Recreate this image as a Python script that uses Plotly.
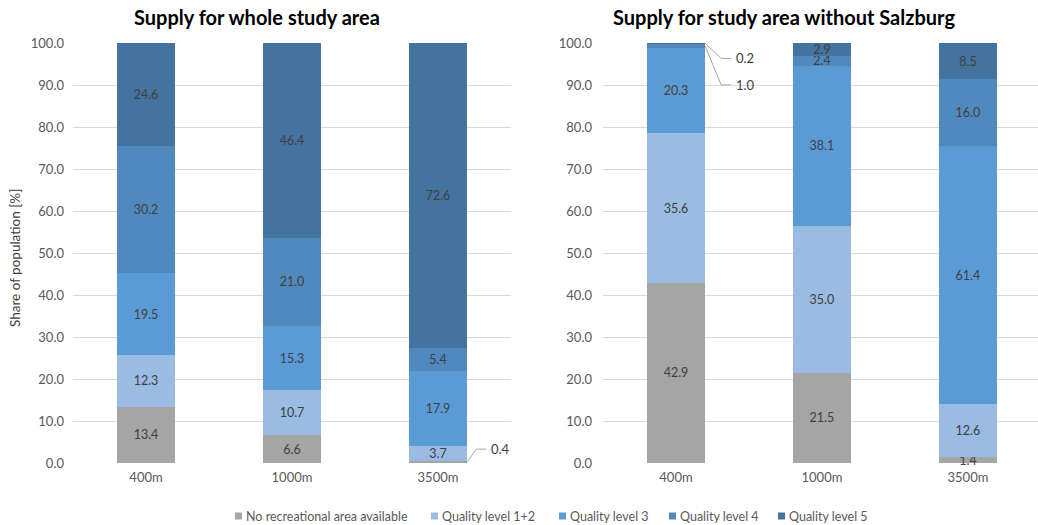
import plotly.graph_objects as go

categories = ["400m", "1000m", "3500m"]
series_names = ["No recreational area available", "Quality level 1+2",
                "Quality level 3", "Quality level 4", "Quality level 5"]
whole_area = {
    "No recreational area available": [13.4, 6.6, 0.4],
    "Quality level 1+2": [12.3, 10.7, 3.7],
    "Quality level 3": [19.5, 15.3, 17.9],
    "Quality level 4": [30.2, 21.0, 5.4],
    "Quality level 5": [24.6, 46.4, 72.6],
}
without_salzburg = {
    "No recreational area available": [42.9, 21.5, 1.4],
    "Quality level 1+2": [35.6, 35.0, 12.6],
    "Quality level 3": [20.3, 38.1, 61.4],
    "Quality level 4": [1.0, 2.4, 16.0],
    "Quality level 5": [0.2, 2.9, 8.5],
}
y_ticks = [0, 10, 20, 30, 40, 50, 60, 70, 80, 90, 100]
colors = ["#A5A5A5", "#9ABBE2", "#5B9BD5", "#4F89BE", "#44739F"]

W, H = 1038, 525
ML, MR, MT, MB = 0, 0, 43, 62
PH = H - MT - MB
FONT = "Lato"
TXT = "#404040"
TICK = "#595959"
BAR_W = 0.4
SMALL = 1.2  # values below get a callout instead of an inside label

fig = go.Figure()

def add_panel(data, xa, ya):
    for name, col in zip(series_names, colors):
        vals = data[name]
        texts = [("" if v < SMALL else f"{v:.1f}") for v in vals]
        fig.add_trace(go.Bar(
            x=categories, y=vals, name=name, marker=dict(color=col, line=dict(width=0)),
            width=BAR_W, text=texts, textposition="inside", insidetextanchor="middle",
            textfont=dict(family=FONT, size=12.5, color=TXT), textangle=0,
            xaxis=xa, yaxis=ya, showlegend=False,
            hoverinfo="skip", cliponaxis=False,
        ))

add_panel(whole_area, "x", "y")
add_panel(without_salzburg, "x2", "y2")

# callouts for small segments, anchored to data positions
def callouts(data, xref, yref, offsets):
    for ci, cat in enumerate(categories):
        base = 0.0
        for name in series_names:
            v = data[name][ci]
            if v < SMALL:
                dx, dy = offsets[(ci, name)]
                xa = ci + BAR_W / 2
                ya = base + v / 2
                fig.add_shape(type="path", xref=xref, yref=yref,
                              xsizemode="pixel", ysizemode="pixel",
                              xanchor=xa, yanchor=ya,
                              path=f"M0,0 L{dx - 10},{dy} L{dx},{dy}",
                              line=dict(color="#A6A6A6", width=1))
                fig.add_annotation(x=xa, y=ya, xref=xref, yref=yref, text=f"{v:.1f}",
                                   showarrow=False, xanchor="left", yanchor="middle",
                                   xshift=dx + 3, yshift=dy,
                                   font=dict(family=FONT, size=13, color=TXT))
            base += v

callouts(whole_area, "x", "y", {(2, "No recreational area available"): (19, 13)})
callouts(without_salzburg, "x2", "y2", {(0, "Quality level 4"): (26, -39),
                                        (0, "Quality level 5"): (26, -15)})

ax_common = dict(type="category", showgrid=False, zeroline=False, showline=False,
                 ticks="", tickfont=dict(family=FONT, size=13, color=TICK),
                 range=[-0.5, 2.5], ticklabelstandoff=5)
ay_common = dict(range=[0, 100], tickvals=y_ticks, tickformat=".1f", showgrid=True,
                 gridcolor="#D9D9D9", gridwidth=1, zeroline=False, showline=False,
                 ticks="", tickfont=dict(family=FONT, size=13, color=TICK),
                 domain=[0, 1])

fig.update_layout(
    width=W, height=H, margin=dict(l=ML, r=MR, t=MT, b=MB),
    paper_bgcolor="white", plot_bgcolor="white",
    barmode="stack",
    font=dict(family=FONT, color=TXT),
    xaxis=dict(ax_common, domain=[73 / W, 511 / W], anchor="y"),
    yaxis=dict(ay_common, anchor="x", ticklabelstandoff=8),
    xaxis2=dict(ax_common, domain=[603 / W, 1038 / W], anchor="y2", range=[-0.5, 2.48]),
    yaxis2=dict(ay_common, anchor="x2", ticklabelstandoff=10),
    uniformtext=dict(minsize=12.5, mode="show"),
    showlegend=False,
)

# titles
title_y = 1 + (MT - 17) / PH
fig.add_annotation(text="<b>Supply for whole study area</b>", xref="paper", yref="paper",
                   x=257 / W, y=title_y, xanchor="center", yanchor="middle", showarrow=False,
                   font=dict(family=FONT, size=20, color="#000000"))
fig.add_annotation(text="<b>Supply for study area without Salzburg</b>", xref="paper", yref="paper",
                   x=784 / W, y=title_y, xanchor="center", yanchor="middle", showarrow=False,
                   font=dict(family=FONT, size=20, color="#000000"))
fig.add_annotation(text="Share of population [%]", xref="paper", yref="paper",
                   x=15 / W, y=(H - MB - 258) / PH, xanchor="center", yanchor="middle",
                   textangle=-90, showarrow=False,
                   font=dict(family=FONT, size=13.5, color=TXT))

# legend drawn as small squares + text, entries taken from the series names
legend_x = [235, 431, 559, 669, 778]
legend_y = (H - MB - 516) / PH
for name, col, lx in zip(series_names, colors, legend_x):
    fig.add_shape(type="rect", xref="paper", yref="paper",
                  xsizemode="pixel", ysizemode="pixel",
                  xanchor=lx / W, yanchor=legend_y,
                  x0=0, x1=7, y0=-3.5, y1=3.5,
                  fillcolor=col, line=dict(width=0))
    fig.add_annotation(text=name, xref="paper", yref="paper",
                       x=(lx + 9) / W, y=legend_y, xanchor="left", yanchor="middle",
                       showarrow=False, font=dict(family=FONT, size=12.5, color=TICK))

fig.write_html("out.html")
